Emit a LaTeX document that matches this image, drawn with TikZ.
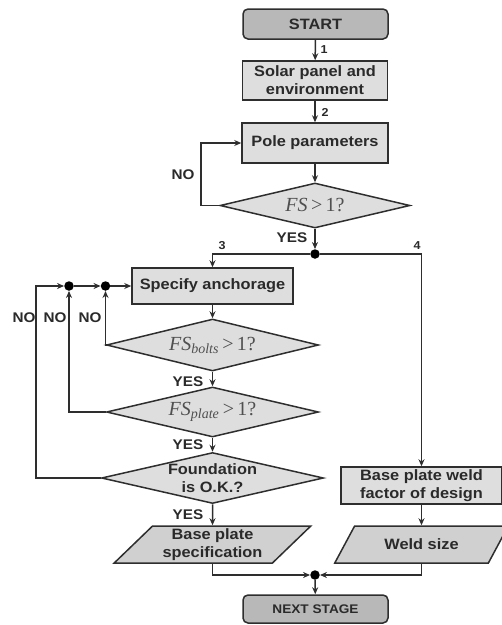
\documentclass[tikz,border=0pt]{standalone}
\usepackage{fontspec}
\setmainfont{Liberation Sans}[FakeStretch=1.09]
\newfontfamily\serfont{Liberation Serif}
\usetikzlibrary{shapes.geometric,arrows.meta,calc}
\definecolor{boxfill}{HTML}{DEDEDE}
\definecolor{termfill}{HTML}{B8B8B8}
\definecolor{parafill}{HTML}{D0D0D0}
\definecolor{linecol}{HTML}{2E2E2E}
\definecolor{txtcol}{HTML}{2A2A2A}
\definecolor{mathcol}{HTML}{505050}
\tikzset{
  base/.style={draw=linecol, line width=1.5pt, text=txtcol, font=\fontsize{15}{18}\selectfont\bfseries, align=center, inner sep=0pt},
  term/.style={base, rounded corners=5pt, fill=termfill, minimum width=145pt},
  procbox/.style={base, fill=boxfill, minimum width=145pt},
  decis/.style={base, diamond, fill=boxfill},
  para/.style={base, trapezium, trapezium left angle=45, trapezium right angle=135, trapezium stretches=true, fill=parafill, minimum height=37pt},
  dot/.style={circle, fill=black, inner sep=0pt, minimum size=9.5pt},
  conn/.style={draw=linecol, line width=1.5pt, -{Stealth[length=7pt,width=6pt]}},
  lbl/.style={text=txtcol, font=\fontsize{14}{16}\selectfont\bfseries, inner sep=0pt},
  num/.style={text=txtcol, font=\fontsize{11.5}{13}\selectfont\bfseries, inner sep=0pt},
  mtxt/.style={text=mathcol, font=\serfont\fontsize{20}{22}\selectfont}
}
\begin{document}
\begin{tikzpicture}[x=1pt,y=-1pt]
\useasboundingbox (0,0) rectangle (502,625);
% nodes
\node[term, minimum height=30pt] (start) at (315.5,24) {START};
\node[procbox, minimum height=39pt] (solar) at (315,80.5) {Solar panel and\\environment};
\node[procbox, minimum width=146pt, minimum height=40pt] (pole) at (315,143) {Pole parameters};
\node[decis, minimum width=190pt, minimum height=45pt,
      label={[mtxt]center:\textit{FS}\,>\,1?}] (d1) at (315,205.5) {};
\node[dot] (j1) at (315,254) {};
\node[procbox, minimum width=161pt, minimum height=36pt] (anch) at (212.5,286) {Specify anchorage};
\node[decis, minimum width=212pt, minimum height=52pt,
      label={[mtxt]center:\textit{FS}\textsubscript{\textit{bolts}}\,>\,1?}] (d2) at (212.5,345) {};
\node[decis, minimum width=212pt, minimum height=50pt,
      label={[mtxt]center:\textit{FS}\textsubscript{\textit{plate}}\,>\,1?}] (d3) at (212.5,412) {};
\node[decis, minimum width=222pt, minimum height=51pt,
      label={[base,draw=none]center:Foundation\\is O.K.?}] (d4) at (212.5,478) {};
\node[para, minimum width=197pt] (bps) at (212.5,544.5) {Base plate\\specification};
\node[procbox, minimum width=161pt, minimum height=37pt] (weldf) at (421.5,485.5) {Base plate weld\\factor of design};
\node[para, minimum width=175pt] (weld) at (421.5,544.5) {Weld size};
\node[dot] (j2) at (315,575) {};
\node[term, minimum height=28pt, font=\fontsize{12.5}{15}\selectfont\bfseries] (next) at (315.5,609) {NEXT STAGE};
\node[dot] (k1) at (69,286) {};
\node[dot] (k2) at (105.5,286) {};
% labels
\node[num] (n1) at (324,50) {1};
\node[num] (n2) at (325,112) {2};
\node[num] (n3) at (222,246) {3};
\node[num] (n4) at (417,246) {4};
\node[lbl] (no1) at (183,175) {NO};
\node[lbl] (yes1) at (292,238) {YES};
\node[lbl] (no2) at (24,318) {NO};
\node[lbl] (no3) at (55,318) {NO};
\node[lbl] (no4) at (90,318) {NO};
\node[lbl] (yes2) at (188,382) {YES};
\node[lbl] (yes3) at (188,445) {YES};
\node[lbl] (yes4) at (188,515) {YES};
% connectors
\draw[conn] (start) -- (solar);
\draw[conn] (solar) -- (pole);
\draw[conn] (pole) -- (d1);
\coordinate (c1) at (201,205.5);
\draw[conn] (d1.west) -- (c1) |- (pole.west);
\draw[conn] (d1.south) -- (j1);
\draw[conn] (j1) -| (anch.north);
\draw[conn] (j1) -| (weldf.north);
\draw[conn] (anch) -- (d2);
\draw[conn] (d2) -- (d3);
\draw[conn] (d3) -- (d4);
\draw[conn] (d4.south) -- (bps.north);
\draw[conn] (d2.west) -| (k2);
\draw[conn] (d3.west) -| (k1);
\coordinate (c2) at (36,478);
\draw[conn] (d4.west) -- (c2) |- (k1);
\draw[conn] (k1) -- (k2);
\draw[conn] (k2) -- (anch.west);
\draw[conn] (weldf) -- (weld);
\draw[conn] (bps.south) |- (j2);
\draw[conn] (weld.south) |- (j2);
\draw[conn] (j2) -- (next);
\end{tikzpicture}
\end{document}
